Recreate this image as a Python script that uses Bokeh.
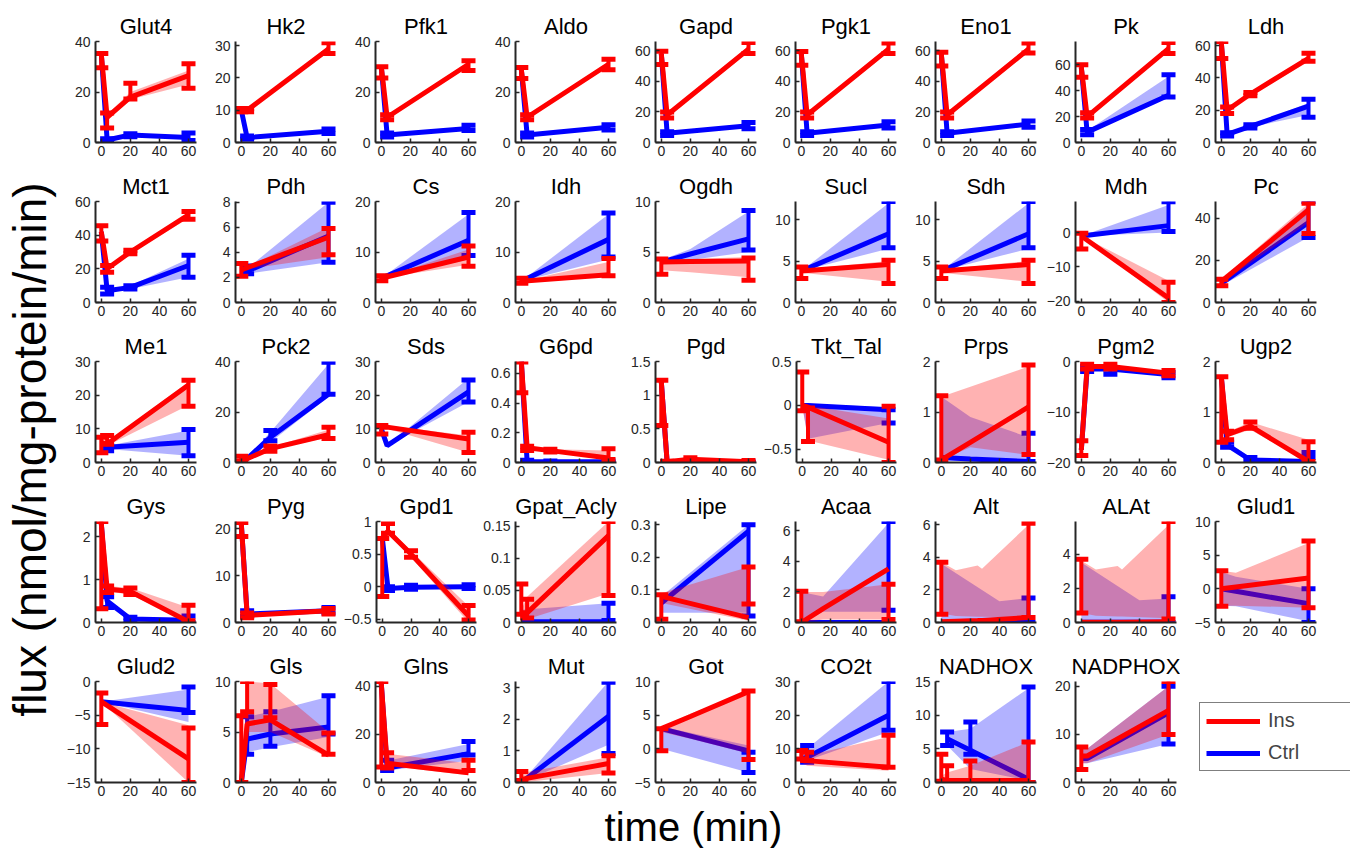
import math
from bokeh.plotting import figure
from bokeh.layouts import row, column
from bokeh.models import (Range1d, FixedTicker, Legend, LegendItem, Label,
                          CustomJSTickFormatter, Spacer)
from bokeh.embed import file_html
from bokeh.resources import INLINE

FONT = "Liberation Sans"
RED = "#ff0000"
BLUE = "#0000ff"
AXC = "#262626"

NAMES = ["Glut4", "Hk2", "Pfk1", "Aldo", "Gapd", "Pgk1", "Eno1", "Pk", "Ldh",
         "Mct1", "Pdh", "Cs", "Idh", "Ogdh", "Sucl", "Sdh", "Mdh", "Pc",
         "Me1", "Pck2", "Sds", "G6pd", "Pgd", "Tkt_Tal", "Prps", "Pgm2", "Ugp2",
         "Gys", "Pyg", "Gpd1", "Gpat_Acly", "Lipe", "Acaa", "Alt", "ALAt", "Glud1",
         "Glud2", "Gls", "Glns", "Mut", "Got", "CO2t", "NADHOX", "NADPHOX"]

X_TICKS = [0, 20, 40, 60]

YLIM = [
    [0, 40], [0, 31.3], [0, 40], [0, 40], [0, 66], [0, 66], [0, 66], [0, 78], [0, 62.5],
    [0, 60], [0, 8.05], [0, 20], [0, 20], [0, 10], [0, 12.2], [0, 12.2], [-20.3, 9], [0, 48],
    [0, 30], [0, 40], [0, 30], [0, 0.68], [0, 1.5], [-0.65, 0.5], [0, 2], [-20, 0], [0, 2],
    [0, 2.35], [0, 21.5], [-0.55, 1], [0, 0.157], [0, 0.31], [0, 6.6], [0, 6.2], [0, 5.9], [-5, 10],
    [-15, 0], [0, 10], [0, 42], [0, 3.2], [-5, 10], [0, 30], [0, 15], [0, 21],
]

YTICKS = [
    [0, 20, 40], [0, 10, 20, 30], [0, 20, 40], [0, 20, 40], [0, 20, 40, 60], [0, 20, 40, 60],
    [0, 20, 40, 60], [0, 20, 40, 60], [0, 20, 40, 60],
    [0, 20, 40, 60], [0, 2, 4, 6, 8], [0, 10, 20], [0, 10, 20], [0, 5, 10], [0, 5, 10], [0, 5, 10],
    [-20, -10, 0], [0, 20, 40],
    [0, 10, 20, 30], [0, 20, 40], [0, 10, 20, 30], [0, 0.2, 0.4, 0.6], [0, 0.5, 1, 1.5],
    [-0.5, 0, 0.5], [0, 1, 2], [-20, -10, 0], [0, 1, 2],
    [0, 1, 2], [0, 10, 20], [-0.5, 0, 0.5, 1], [0, 0.05, 0.1, 0.15], [0, 0.1, 0.2, 0.3],
    [0, 2, 4, 6], [0, 2, 4, 6], [0, 2, 4], [-5, 0, 5, 10],
    [-15, -10, -5, 0], [0, 5, 10], [0, 20, 40], [0, 1, 2, 3], [-5, 0, 5, 10], [0, 10, 20, 30],
    [0, 5, 10, 15], [0, 10, 20],
]

# ---------------- Ins (insulin) : simulation median / band ----------------
INS_T = [
    [0, 4, 20, 60], [0, 4, 60], [0, 4, 60], [0, 4, 60], [0, 4, 60], [0, 4, 60], [0, 4, 60], [0, 4, 60], [0, 4, 20, 60],
    [0, 4, 20, 60], [0, 60], [0, 60], [0, 60], [0, 20, 60], [0, 60], [0, 60], [0, 60], [0, 60],
    [0, 4, 60], [0, 4, 20, 60], [0, 4, 60], [0, 4, 20, 60], [0, 4, 20, 60], [0, 4, 60], [0, 20, 60], [0, 4, 20, 60], [0, 4, 20, 60],
    [0, 4, 20, 60], [0, 4, 60], [0, 4, 20, 60], [0, 4, 60], [0, 60], [0, 15, 60], [0, 10, 25, 28, 60], [0, 10, 25, 28, 60], [0, 10, 60],
    [0, 60], [0, 4, 20, 60], [0, 4, 60], [0, 60], [0, 20, 60], [0, 4, 60], [0, 4, 20, 60], [0, 4, 60],
]
INS_MED = [
    [35, 10, 18, 26.5], [10, 10, 29], [30, 10, 31], [29, 10, 31], [58, 18, 61], [58, 18, 61], [58, 18, 61], [58, 20, 72.5], [62, 20, 30, 52],
    [42, 20, 30, 52], [2.6, 5.2], [4.8, 9], [4.2, 5.5], [4, 4.05, 4.1], [3.8, 4.6], [3.8, 4.6], [-1, -19], [10, 44],
    [6, 5.5, 23], [1.5, 1.5, 5.5, 11], [10.5, 10.5, 7], [0.68, 0.1, 0.08, 0.03], [1.2, 0.01, 0.05, 0.01], [0, -0.02, -0.42],
    [0.05, 0.4, 1.1], [-17.5, -1, -1, -2.3], [1.7, 0.55, 0.72, 0.02],
    [2.3, 0.78, 0.72, 0.02], [21, 1.5, 2.5], [0.75, 0.85, 0.5, -0.45], [0.015, 0.015, 0.135], [0.08, 0.015], [0, 0.9, 3.5],
    [0.05, 0.08, 0.12, 0.13, 0.3], [0.02, 0.02, 0.02, 0.02, 0.05], [0, 0.27, 1.6],
    [-3, -11.5], [0, 5.8, 6.2, 2.7], [41, 8, 4], [0.1, 0.6], [3, 4.8, 8.5], [7, 6.5, 4.5], [0.5, 0.3, 0.3, 0.3], [5.5, 5.5, 15],
]
INS_LO = [
    [35, 9, 17, 23], [10, 10, 28], [30, 9.5, 30], [29, 9.5, 30], [58, 17, 59], [58, 17, 59], [58, 17, 59], [58, 19, 71], [62, 19, 29, 50],
    [42, 19, 29, 50], [2.6, 3.6], [4.8, 7.5], [4.2, 5], [3.2, 3.0, 2.5], [3.6, 2.5], [3.6, 2.5], [-1, -20.3], [9, 38],
    [6, 5, 17], [1, 1, 5, 10], [10, 10, 3], [0.68, 0.09, 0.07, 0.02], [1.2, 0, 0.04, 0], [0, -0.4, -0.62], [0.05, 0.3, 0.15],
    [-17.5, -1.2, -1.2, -2.6], [1.7, 0.5, 0.65, 0],
    [2.3, 0.72, 0.65, 0], [21, 1.3, 2.2], [0.75, 0.8, 0.45, -0.55], [0.01, 0.005, 0.045], [0.06, 0.005], [0, 0.2, 0.2],
    [0.55, 0.4, 0.35, 0.35, 0.3], [0.55, 0.4, 0.35, 0.35, 0.25], [-2.5, -2.5, -2.8],
    [-3, -15], [0, 5, 5, 2.5], [41, 7, 3], [0, 0.3], [2.5, 1.5, -0.7], [6, 5, 3.5], [0, 0, 0, 0], [4, 4, 10],
]
INS_HI = [
    [35, 11, 20, 28.5], [10, 10, 30], [30, 10.5, 32], [29, 10.5, 32], [58, 19, 63], [58, 19, 63], [58, 19, 63], [58, 21, 74], [62, 21, 31, 53.5],
    [42, 21, 31, 53], [2.6, 6], [4.8, 10.5], [4.2, 8], [4.2, 4.3, 4.5], [4, 5], [4, 5], [-1, -14], [11, 47],
    [6, 6, 24], [2, 2, 6, 13], [11, 11, 8], [0.68, 0.1, 0.09, 0.08], [1.2, 0.02, 0.06, 0.02], [0, 0, -0.15], [1.3, 1.5, 1.9],
    [-17.5, -0.8, -0.8, -2], [1.7, 0.6, 0.8, 0.45],
    [2.3, 0.85, 0.8, 0.35], [21, 1.7, 2.8], [0.75, 0.9, 0.55, -0.3], [0.02, 0.04, 0.157], [0.09, 0.17], [2, 2, 2.5],
    [3.7, 3.2, 3.5, 3.3, 6], [3.6, 3.1, 3.3, 3.1, 5.7], [2.7, 2.4, 6.8],
    [-3, -6.5], [0, 10, 9.8, 5], [41, 12, 8], [0.3, 0.8], [3.2, 5.2, 8.5], [8, 8, 13.5], [1, 1.5, 2.5, 6], [7, 7, 20],
]
# ---------------- Ins : measured data (error bars) ----------------
INS_ET = [
    [0, 4, 20, 60], [0, 4, 60], [0, 4, 60], [0, 4, 60], [0, 4, 60], [0, 4, 60], [0, 4, 60], [0, 4, 60], [0, 4, 20, 60],
    [0, 4, 20, 60], [0, 60], [0, 60], [0, 60], [0, 60], [0, 60], [0, 60], [0, 60], [0, 60],
    [0, 4, 60], [0, 20, 60], [0, 60], [0, 4, 20, 60], [0, 4, 20, 60], [0, 4, 60], [0, 60], [0, 4, 20, 60], [0, 4, 20, 60],
    [0, 4, 20, 60], [0, 4, 60], [0, 4, 20, 60], [0, 4, 60], [0, 60], [0, 60], [0, 60], [0, 60], [0, 60],
    [0, 60], [0, 4, 20, 60], [0, 4, 60], [0, 60], [0, 60], [0, 4, 60], [0, 4, 20, 60], [0, 60],
]
INS_ELO = [
    [29.6, 5.7, 17.2, 21.5], [9.5, 9.5, 27.6], [25.5, 9, 28.5], [25.3, 9, 28.8], [50.9, 16, 58.2], [50.5, 16, 58.2],
    [50, 16, 58.5], [50.3, 19, 68.7], [52, 18, 29, 50.3],
    [36.6, 18, 29, 49.4], [2.1, 3.8], [4.3, 7.2], [3.8, 5.3], [2.8, 2.2], [2.9, 2.3], [2.9, 2.3], [-4.8, -20.3], [8, 32.8],
    [2.9, 5.4, 16.7], [0.5, 4.5, 9.5], [8.5, 3], [0.47, 0.08, 0.07, 0.02], [0.55, 0, 0.03, 0], [-0.06, -0.41, -0.65],
    [0.05, 0.16], [-18.6, -1.5, -1.5, -2.8], [0.4, 0.45, 0.68, 0.02],
    [0.32, 0.7, 0.65, 0.04], [18.3, 1, 1.8], [-0.15, 0.82, 0.45, -0.51], [0.013, 0.007, 0.042], [0.01, 0.057], [0.05, 0.2],
    [0.5, 0.3], [0.55, 0.2], [-2.6, -2.8],
    [-6.4, -15], [0, 7, 6.4, 2.8], [6.4, 6, 5], [0.06, 0.3], [-0.3, -1.6], [7, 6.5, 4.5], [0.2, 0, 0, 0], [2.7, 10],
]
INS_EHI = [
    [35.2, 11.7, 23.5, 31.2], [10.5, 10.5, 30.9], [30, 11, 32.4], [29.7, 11, 33], [59.6, 20, 65.3], [59.5, 20, 65],
    [59, 20, 65], [60, 23, 77.3], [62.5, 22, 31, 55.2],
    [45.6, 22, 31, 54], [3.1, 5.9], [5.3, 11.2], [4.8, 8.7], [4.3, 4.4], [4.3, 5.1], [4.3, 5.1], [-0.2, -14.4], [11, 47.2],
    [7.5, 8, 24.4], [2.5, 6.5, 14], [11, 9], [0.677, 0.11, 0.09, 0.093], [1.22, 0.02, 0.07, 0.03], [0.38, -0.03, -0.01],
    [1.32, 1.93], [-15.7, -0.5, -0.5, -1.8], [1.7, 0.62, 0.8, 0.41],
    [2.35, 0.85, 0.8, 0.4], [21.3, 2, 3], [0.74, 0.97, 0.55, -0.29], [0.06, 0.036, 0.157], [0.085, 0.17], [2.05, 2.5],
    [3.7, 6.1], [3.7, 5.9], [2.7, 7.1],
    [-1.7, -6.9], [6.6, 10, 9.7, 4.9], [42, 12.4, 9.3], [0.35, 0.85], [3, 8.6], [9.5, 9, 14], [4.2, 2.5, 3.2, 6], [7.4, 21],
]

# ---------------- Ctrl : simulation median / band ----------------
CTRL_T = [
    [0, 4, 20, 60], [0, 4, 60], [0, 4, 60], [0, 4, 60], [0, 4, 60], [0, 4, 60], [0, 4, 60], [0, 4, 60], [0, 4, 20, 60],
    [0, 4, 20, 60], [0, 4, 60], [0, 60], [0, 60], [0, 20, 60], [0, 60], [0, 60], [0, 60], [0, 60],
    [0, 4, 60], [0, 4, 20, 60], [0, 4, 60], [0, 4, 20, 60], [0, 4, 20, 60], [0, 4, 60], [0, 20, 60], [0, 4, 20, 60], [0, 4, 20, 60],
    [0, 4, 20, 60], [0, 4, 60], [0, 4, 20, 60], [0, 60], [0, 60], [0, 15, 60], [0, 40, 60], [0, 40, 60], [0, 10, 60],
    [0, 60], [0, 4, 20, 60], [0, 4, 60], [0, 60], [0, 60], [0, 4, 60], [4, 20, 60], [0, 4, 60],
]
CTRL_MED = [
    [35, 1, 3, 2], [10, 1.5, 3.5], [30, 3, 5.5], [29, 3, 6], [58, 6, 11], [58, 6, 11.5], [58, 6, 12], [58, 8, 36.5], [62, 5, 10, 22.5],
    [42, 7, 9, 22], [2.6, 2.5, 5.3], [4.8, 12.3], [4.2, 12.5], [4, 4.8, 6.3], [3.8, 8.3], [3.8, 8.3], [-1, 2], [9, 38],
    [5, 4.5, 6], [1.5, 1.5, 10, 27], [10, 5, 21], [0.68, 0.005, 0.005, 0.005], [1.2, 0.003, 0.003, 0.003], [0, 0, -0.05],
    [0.1, 0.07, 0.02], [-17.5, -1.5, -1.5, -2.6], [1.7, 0.35, 0.05, 0.02],
    [2.3, 0.5, 0.08, 0.05], [21, 1.8, 2.5], [0.75, -0.03, -0.01, 0], [0.001, 0.001], [0.06, 0.28], [0, 0, 0],
    [0.02, 0.01, 0], [0.02, 0.02, 0.02], [0, -0.37, -2.2],
    [-3, -4.3], [0, 4.3, 4.8, 5.5], [41, 6, 12], [0, 2.1], [3, -0.3], [7, 7.5, 20], [6.5, 4.8, 0.5], [5, 5, 14.5],
]
CTRL_LO = [
    [35, 0.5, 2.5, 1.5], [10, 1.3, 3.2], [30, 2.7, 5], [29, 2.7, 5.5], [58, 5.5, 10], [58, 5.5, 10.5], [58, 5.5, 11], [58, 7, 36], [62, 4.5, 9.5, 17],
    [42, 6, 8, 15], [2.6, 2.3, 3.2], [4.8, 8.5], [4.2, 8.5], [3.8, 4.2, 5], [3.8, 6.5], [3.8, 6.5], [-1, 0], [8, 31],
    [5, 4, 2], [1, 1, 8, 26], [10, 5, 18], [0.68, 0, 0, 0], [1.2, 0, 0, 0], [0, -0.38, -0.2], [0.05, 0.02, 0],
    [-17.5, -1.7, -1.7, -2.9], [1.7, 0.3, 0.02, 0],
    [2.3, 0.4, 0.03, 0], [21, 1.6, 2.2], [0.75, -0.05, -0.03, -0.02], [0, 0], [0.03, 0.03], [0, 0.7, 0.7],
    [0.1, 0.05, 0.05], [0.1, 0.05, 0.05], [-2.5, -2.6, -4.8],
    [-3, -6], [0, 3, 3.5, 4.5], [41, 5, 9], [0, 1.2], [0, -3.5], [6, 6.5, 15], [5.5, 2, 0.3], [4, 4, 8],
]
CTRL_HI = [
    [35, 1.5, 3.5, 2.5], [10, 1.7, 3.8], [30, 3.3, 6], [29, 3.3, 6.5], [58, 6.5, 12], [58, 6.5, 12.5], [58, 6.5, 13], [58, 9, 51], [62, 5.5, 10.5, 24.5],
    [42, 8, 10, 26], [2.6, 2.7, 8], [4.8, 17.5], [4.2, 17.5], [4.2, 5.3, 9], [3.8, 12], [3.8, 12], [-1, 8], [10, 46],
    [5, 5, 9.5], [2, 2, 12, 39], [10, 5, 25], [0.68, 0.01, 0.01, 0.01], [1.2, 0.006, 0.006, 0.006], [0, 0.02, -0.02],
    [1.3, 0.9, 0.5], [-17.5, -1.3, -1.3, -2.3], [1.7, 0.4, 0.1, 0.05],
    [2.3, 0.55, 0.12, 0.1], [21, 2, 2.8], [0.75, 0, 0.01, 0.02], [0.02, 0.03], [0.08, 0.3], [2, 1.7, 6.5],
    [3.6, 1.3, 1.5], [3.5, 1.3, 1.4], [2.5, 1.8, 0],
    [-3, -1.2], [0, 6.5, 7, 8.5], [41, 9, 16], [0, 3.2], [3.3, 0.5], [8, 10, 30], [7.5, 8, 14], [7, 7, 20],
]
# ---------------- Ctrl : measured data (error bars) ----------------
CTRL_ET = [
    [4, 20, 60], [4, 60], [4, 60], [4, 60], [4, 60], [4, 60], [4, 60], [4, 60], [4, 20, 60],
    [4, 20, 60], [4, 60], [60], [60], [60], [60], [60], [60], [60],
    [4, 60], [20, 60], [60], [4, 20, 60], [4, 20, 60], [60], [60], [4, 20, 60], [4, 20, 60],
    [4, 20, 60], [4, 60], [4, 20, 60], [60], [60], [60], [60], [60], [60],
    [60], [4, 20, 60], [4, 60], [60], [60], [4, 60], [4, 20, 60], [60],
]
CTRL_ELO = [
    [0.3, 2.3, 0.8], [1, 2.8], [2.2, 4.8], [2.2, 5], [4.5, 9], [4.5, 9.5], [4.5, 10], [6, 35.1], [4, 9, 15.6],
    [5, 8, 15], [2.3, 3.2], [9.3], [9], [5.2], [6.6], [6.6], [0.3], [30.9],
    [3.5, 2], [8.6, 27], [18], [0, 0, 0], [0, 0, 0], [-0.2], [0.02], [-2, -2.5, -3.2], [0.3, 0, 0.1],
    [0.35, 0.03, 0], [1.3, 2], [-0.06, -0.04, -0.03], [0.003], [0.02], [0.8], [0], [0], [-5],
    [-4.6], [2.8, 3.6, 4.8], [5, 11.4], [0.92], [-3.5], [6, 15.5], [5.5, 4.2, 0], [8],
]
CTRL_EHI = [
    [1.5, 3.5, 3.8], [2, 4.2], [3.8, 6.8], [3.8, 7], [7, 13], [7, 13.5], [7, 14], [10, 52.4], [6, 11, 26.8],
    [9, 10, 28], [2.9, 8], [17.8], [17.7], [9.1], [12.2], [12.2], [8.9], [48],
    [5, 9.8], [12.7, 39.7], [24.5], [0.015, 0.01, 0.01], [0.01, 0.02, 0.01], [-0.05], [0.58], [-1, -1.5, -2.2], [0.4, 0.1, 0.2],
    [0.6, 0.12, 0.15], [2.5, 3.2], [0, 0.02, 0.03], [0.03], [0.3], [6.6], [1.5], [1.5], [0],
    [-0.8], [6.5, 7, 8.6], [9.3, 17], [3.18], [-0.5], [11, 30], [7.5, 9, 14.2], [20],
]

NCOL = 9
CELL_W, CELL_H = 140, 160
LAST_H = 154          # last row is shorter: its x-axis label sits just below
B_LEFT, B_TOP, B_BOTTOM = 35, 33, 26
YLAB_W = 60
LEG_W = 170
TOP_PAD = 8
GRID_H = 4 * CELL_H + LAST_H
XLAB_H = 848 - TOP_PAD - GRID_H

TICK_FMT = CustomJSTickFormatter(code="""
const a = Math.round(Math.abs(tick) * 1e6) / 1e6;
return (tick < 0 ? "\\u2212" : "") + String(a);
""")


def draw_series(p, t, med, lo, hi, et, elo, ehi, color):
    p.varea(x=t, y1=lo, y2=hi, fill_color=color, fill_alpha=0.3)
    p.line(x=t, y=med, line_color=color, line_width=5)
    p.segment(x0=et, y0=elo, x1=et, y1=ehi, line_color=color, line_width=4)
    p.scatter(x=et + et, y=elo + ehi, marker="dash", size=14,
              line_color=color, line_width=5)


def make_panel(i):
    last = i >= 4 * NCOL
    h = LAST_H if last else CELL_H
    p = figure(width=CELL_W, height=h, output_backend="svg", toolbar_location=None,
               x_range=Range1d(-4, 65.5), y_range=Range1d(*YLIM[i]),
               min_border_left=B_LEFT, min_border_right=CELL_W - B_LEFT - 101,
               min_border_top=B_TOP, min_border_bottom=h - B_TOP - 101,
               title=NAMES[i])
    p.title.text_font = FONT
    p.title.text_font_size = "22px"
    p.title.text_font_style = "normal"
    p.title.text_color = "black"
    p.title.align = "center"
    p.title.standoff = 5
    p.outline_line_color = None
    p.grid.visible = False
    p.xaxis.ticker = FixedTicker(ticks=X_TICKS)
    p.yaxis.ticker = FixedTicker(ticks=YTICKS[i])
    p.yaxis.formatter = TICK_FMT
    for ax in (p.xaxis, p.yaxis):
        ax.axis_line_color = AXC
        ax.axis_line_width = 2
        ax.major_tick_line_color = AXC
        ax.major_tick_line_width = 1.5
        ax.major_tick_in = 4
        ax.major_tick_out = 0
        ax.minor_tick_line_color = None
        ax.major_label_text_font = FONT
        ax.major_label_text_font_size = "14px"
        ax.major_label_text_color = AXC
    p.xaxis.major_label_standoff = 3
    p.yaxis.major_label_standoff = 5

    draw_series(p, CTRL_T[i], CTRL_MED[i], CTRL_LO[i], CTRL_HI[i],
                CTRL_ET[i], CTRL_ELO[i], CTRL_EHI[i], BLUE)
    draw_series(p, INS_T[i], INS_MED[i], INS_LO[i], INS_HI[i],
                INS_ET[i], INS_ELO[i], INS_EHI[i], RED)
    return p


def blank(width, height):
    f = figure(width=width, height=height, output_backend="svg", toolbar_location=None,
               x_range=Range1d(0, 1), y_range=Range1d(0, 1), min_border=0,
               x_axis_location=None, y_axis_location=None, title=None)
    f.grid.visible = False
    f.outline_line_color = None
    return f


panels = [make_panel(i) for i in range(len(NAMES))]

# legend cell (the legend's sample lines lie outside the visible range)
leg_fig = blank(LEG_W, LAST_H)
r_ins = leg_fig.line(x=[5, 6], y=[5, 5], line_color=RED, line_width=5)
r_ctrl = leg_fig.line(x=[5, 6], y=[6, 6], line_color=BLUE, line_width=5)
legend = Legend(items=[LegendItem(label="Ins", renderers=[r_ins]),
                       LegendItem(label="Ctrl", renderers=[r_ctrl])],
                location=(19, 11), label_text_font=FONT, label_text_font_size="20px",
                glyph_width=54, glyph_height=22, label_width=79, label_standoff=8,
                padding=6, spacing=9, margin=0,
                border_line_color="black", border_line_width=1,
                background_fill_alpha=1.0)
leg_fig.add_layout(legend)

cells = panels + [leg_fig]
grid = column(*[row(*cells[r * NCOL:(r + 1) * NCOL]) for r in range(5)])

ylab = blank(YLAB_W, GRID_H)
ylab.add_layout(Label(x=29, y=353, x_units="screen", y_units="screen",
                      text="flux (nmol/mg-protein/min)", angle=math.pi / 2,
                      text_align="center", text_baseline="middle",
                      text_font=FONT, text_font_size="46px", text_color="black"))

total_w = YLAB_W + 8 * CELL_W + LEG_W
xlab = blank(total_w, XLAB_H)
xlab.add_layout(Label(x=693, y=22, x_units="screen", y_units="screen",
                      text="time (min)", text_align="center", text_baseline="middle",
                      text_font=FONT, text_font_size="40px", text_color="black"))

layout = column(Spacer(width=10, height=TOP_PAD), row(ylab, grid), xlab)

open("out.html", "w").write(file_html(layout, INLINE))
